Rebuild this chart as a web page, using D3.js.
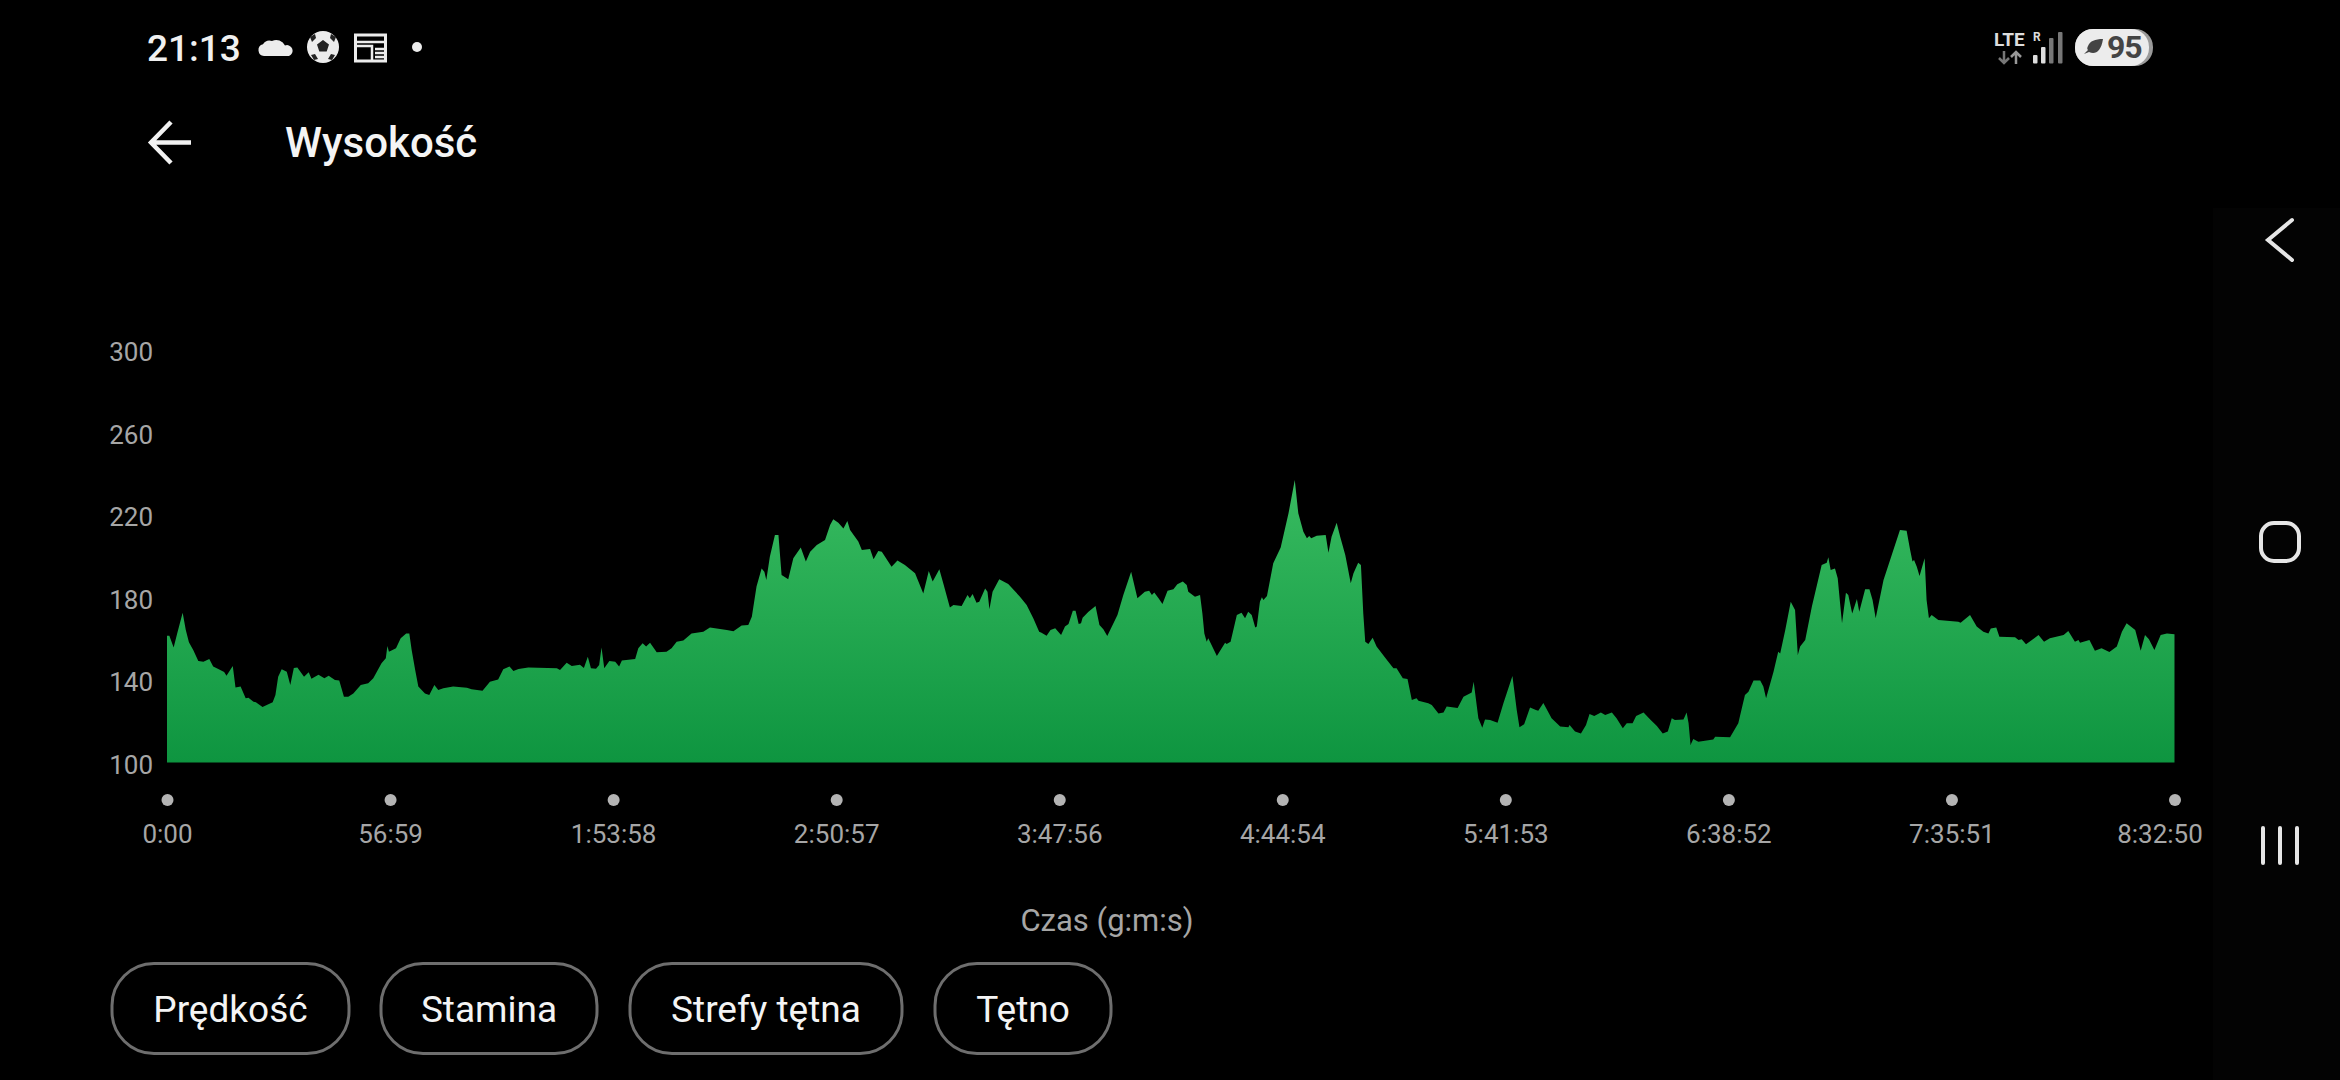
<!DOCTYPE html>
<html lang="pl">
<head>
<meta charset="utf-8">
<title>Wysokość</title>
<script src="https://cdn.jsdelivr.net/npm/d3@7"></script>
<style>
  html, body { margin: 0; padding: 0; background: #000; overflow: hidden; }
  svg { display: block; font-family: Roboto, sans-serif; }
  .axis text { fill: #a6a6a6; font-size: 26px; font-family: Roboto, sans-serif; }
  .axis path { display: none; }
</style>
</head>
<body>
<svg width="2340" height="1080"></svg>
<script>
// Values
const yTicks = [100, 140, 180, 220, 260, 300];
const xTickLabels = ["0:00", "56:59", "1:53:58", "2:50:57", "3:47:56", "4:44:54", "5:41:53", "6:38:52", "7:35:51", "8:32:50"];
const buttonLabels = ["Prędkość", "Stamina", "Strefy tętna", "Tętno"];
const buttonEdges = [[112, 349], [381, 597], [630, 902], [935, 1111]];

// time in minutes
const minutes = [
  0, 0.6, 1.7, 2.6, 4.0, 4.8, 5.6, 6.7, 8.0, 9.3, 10.8, 11.8, 13.1, 14.6, 15.2, 16.8, 17.5, 18.8, 20.1, 20.8,
  22.1, 22.7, 24.4, 25.9, 27.0, 27.7, 28.4, 29.3, 30.6, 31.5, 32.4, 33.3, 35.0, 36.2, 36.9, 38.7, 40.2, 41.3, 42.9, 44.0,
  45.2, 46.3, 47.6, 49.5, 51.4, 52.7, 54.8, 55.9, 56.3, 56.7, 58.5, 59.7, 61.1, 61.9, 62.5, 63.4, 64.2, 65.9, 67.0, 68.3,
  69.3, 70.6, 73.1, 76.6, 77.8, 80.6, 82.5, 84.6, 85.9, 87.5, 88.5, 89.8, 92.3, 99.6,
  100.4, 102.1, 103.4, 105.5, 106.5, 107.5, 108.3, 109.6, 110.4, 111.0, 111.7, 113.0, 114.5, 115.5, 116.2, 119.6, 120.4, 121.5, 122.4, 123.4,
  125.1, 127.6, 128.9, 130.2, 131.9, 134.0, 137.0, 138.7, 143.0, 144.7, 146.8, 148.5, 149.4, 150.6, 151.9, 152.6, 153.1, 154.0, 155.3, 156.2,
  157.0, 158.7, 160.0, 161.9, 163.2, 164.3, 166.0, 168.1, 169.4, 170.2, 171.5, 172.8, 173.8, 174.5, 176.6, 177.5, 179.6, 180.5, 181.7, 182.6,
  185.1, 186.6, 188.5, 191.1, 193.2, 194.6, 195.6, 197.3, 198.3, 200.0, 200.9, 203.0, 204.5, 205.1, 205.8, 206.8, 207.5, 209.0, 209.6, 210.1,
  210.9, 212.6, 214.9, 217.9, 219.6, 221.3, 222.8,
  223.4, 224.7, 225.7, 226.9, 228.4, 229.4, 230.3, 231.4, 232.1, 232.9, 233.5, 233.9, 235.4, 237.2, 238.2, 239.2, 240.2, 242.8, 244.3, 246.3,
  247.9, 249.8, 250.9, 251.6, 252.2, 253.3, 254.3, 255.6, 257.1, 258.1, 259.5, 260.5, 260.9, 262.6, 263.9, 264.5, 265.0, 265.6, 266.0, 268.2,
  270.3, 270.7, 271.7, 273.3, 274.5, 275.4, 276.2, 277.1, 278.0, 278.4, 279.2, 279.7, 280.1, 281.0, 282.6, 284.5, 286.5, 288.1, 289.0, 290.3,
  291.2, 291.8, 292.3, 293.7, 296.0, 296.7, 297.5, 298.8, 299.7, 301.0, 301.5, 302.4, 303.1, 304.3, 305.0, 305.6, 306.1, 306.9, 307.3, 308.0,
  309.0, 311.2, 313.3, 314.1, 315.7, 316.9, 318.0, 319.2, 319.7, 322.2, 323.1, 324.8, 326.1, 326.9, 329.7, 331.2, 333.3, 333.8, 335.0, 336.0,
  336.7, 338.0, 339.9, 341.4, 343.7,
  344.8, 345.5, 346.7, 348.2, 349.7, 350.3, 351.6, 353.7, 355.9, 358.0, 358.3, 359.7, 361.2, 362.5, 363.4, 364.6, 366.3, 367.4, 369.1, 370.3,
  371.9, 372.9, 374.4, 375.3, 377.2, 378.9, 380.6, 382.1, 383.4, 384.4, 385.2, 387.4, 388.2, 388.7, 389.2, 389.9, 391.2, 395.0, 395.5, 399.3,
  401.4, 403.1, 404.0, 405.3, 407.0, 407.8, 408.5, 410.4, 411.6, 412.1, 413.4, 414.8, 415.9, 416.6, 417.2, 418.5, 420.2, 422.7, 424.0, 424.4,
  425.0, 426.1, 426.8, 427.4, 427.9, 428.9, 429.5, 430.5, 431.7, 432.3, 433.8, 434.9, 435.7, 436.5, 438.5, 440.6, 442.7, 444.4, 445.3, 445.9,
  446.3, 447.0, 447.7, 449.0, 449.5, 450.1, 450.8, 452.5, 457.6, 458.2, 460.6, 462.3, 464.0, 465.3, 465.9, 467.3, 468.1, 472.1, 473.0, 473.8,
  474.9, 476.4, 478.1, 479.5, 481.0, 484.5, 485.7, 487.4, 488.3, 488.7, 491.1, 492.5, 494.2, 496.2, 498.1, 499.4, 500.6, 502.8, 504.2, 505.3,
  506.3, 507.7, 509.3, 510.9, 512.83
];
// elevation in metres
const elevation = [
  161.5, 161.5, 155.8, 162.6, 172.6, 164.2, 158.3, 154.5, 149.2, 148.9, 150.2, 146.5, 145.3, 143.9, 142.1, 146.8, 136.4, 136.8, 131.1, 131.4,
  129.5, 129.2, 126.9, 128.2, 129.2, 132.7, 141.6, 145.2, 144.0, 137.6, 145.8, 146.1, 141.6, 143.7, 140.6, 142.6, 140.8, 142.1, 140.0, 139.7,
  131.9, 131.9, 133.5, 137.6, 138.4, 140.8, 148.1, 150.5, 156.5, 153.7, 155.4, 160.2, 162.5, 162.6, 154.5, 144.8, 136.8, 133.5, 132.7, 137.6,
  135.2, 136.0, 136.8, 136.3, 135.5, 134.8, 139.2, 140.3, 145.2, 146.5, 144.4, 145.3, 146.1, 145.7,
  144.8, 148.4, 146.8, 147.4, 145.8, 151.3, 145.7, 145.5, 147.3, 155.7, 145.7, 149.2, 148.9, 146.5, 149.4, 150.2, 155.4, 157.8, 156.2, 158.1,
  153.4, 153.7, 155.4, 158.6, 159.1, 162.6, 163.4, 165.4, 164.2, 163.6, 166.4, 166.7, 170.7, 185.3, 194.1, 192.5, 188.5, 199.8, 210.3, 210.3,
  190.9, 188.8, 199.0, 204.3, 197.4, 202.2, 205.5, 207.9, 215.2, 217.9, 216.3, 213.5, 217.1, 212.7, 207.1, 203.0, 203.5, 198.5, 202.5, 202.2,
  194.9, 197.9, 195.8, 191.7, 182.0, 192.9, 187.7, 193.7, 186.9, 175.2, 176.4, 175.9, 181.2, 179.6, 181.7, 177.5, 178.0, 184.4, 182.8, 174.3,
  182.8, 188.8, 186.5, 180.4, 176.4, 169.9, 163.4,
  162.9, 161.5, 164.2, 165.1, 161.8, 165.9, 167.2, 173.6, 173.6, 167.2, 167.5, 170.2, 173.1, 175.9, 166.7, 164.6, 161.3, 171.5, 181.2, 192.5,
  179.6, 182.8, 183.3, 181.2, 182.4, 179.6, 176.9, 183.3, 184.0, 186.4, 187.7, 186.1, 182.8, 180.4, 181.2, 172.3, 162.6, 158.6, 160.2, 151.6,
  158.1, 157.5, 158.6, 171.5, 172.6, 169.9, 173.1, 171.5, 165.4, 165.9, 178.0, 180.1, 178.8, 180.7, 196.6, 204.3, 220.8, 237.0, 220.8, 211.9,
  208.7, 209.8, 208.7, 210.0, 210.3, 201.7, 209.5, 216.3, 209.5, 200.6, 195.8, 186.9, 191.7, 196.9, 195.8, 172.3, 158.6, 157.5, 158.6, 160.5,
  156.2, 150.8, 145.7, 145.7, 140.8, 140.5, 130.3, 131.1, 130.0, 128.7, 127.9, 123.8, 124.3, 127.1, 126.4, 131.9, 133.9, 139.2, 121.4, 116.9,
  120.9, 120.6, 119.3, 128.7, 141.9,
  125.5, 117.1, 118.5, 126.7, 125.5, 125.1, 128.9, 121.4, 117.4, 117.1, 118.2, 115.0, 114.1, 118.2, 123.5, 122.5, 124.2, 123.0, 124.2, 121.4,
  116.6, 119.0, 119.0, 122.5, 124.2, 120.9, 117.7, 114.1, 115.0, 121.4, 120.6, 120.9, 124.2, 119.0, 108.5, 111.4, 110.1, 111.2, 112.5, 112.2,
  119.0, 132.7, 134.3, 139.7, 139.7, 136.8, 131.1, 144.0, 153.7, 152.9, 164.2, 178.0, 173.9, 152.1, 156.2, 159.4, 175.6, 195.8, 196.9, 199.5,
  193.3, 194.1, 189.3, 177.2, 167.5, 182.3, 181.2, 172.3, 179.3, 173.1, 184.0, 184.0, 178.8, 169.9, 188.5, 200.6, 212.7, 212.4, 203.0, 197.4,
  198.2, 194.9, 190.4, 199.0, 178.8, 169.9, 171.5, 169.1, 168.3, 167.8, 171.5, 165.9, 163.4, 162.6, 165.0, 165.5, 161.0, 160.7, 159.4, 159.7,
  157.3, 159.4, 161.8, 158.6, 160.2, 161.8, 163.8, 158.6, 159.4, 158.1, 159.4, 154.2, 155.4, 153.6, 156.2, 163.4, 167.5, 164.2, 154.2, 161.8,
  159.7, 154.6, 161.8, 162.6, 162.2
];

const svg = d3.select("svg");

// Navigation strip on the right, under everything else
svg.append("rect").attr("x", 2213).attr("y", 208).attr("width", 127).attr("height", 872).attr("fill", "#030303");

// hh:mm:ss label to minutes
const labelToMinutes = (s) => s.split(":").map(Number).reduce((acc, v) => acc * 60 + v, 0) / 60;
const xTickValues = xTickLabels.map((s, i) => i === 0 ? 0 : labelToMinutes(s));

const x = d3.scaleLinear().domain([0, labelToMinutes("8:32:50")]).range([167, 2174.5]);
const y = d3.scaleLinear().domain([100, 300]).range([762.5, 350]);

// Gradient under the profile
const grad = svg.append("defs").append("linearGradient")
  .attr("id", "areaFill")
  .attr("x1", 0).attr("x2", 0).attr("y1", 0).attr("y2", 1);
grad.append("stop").attr("offset", "0%").attr("stop-color", "#38bb60");
grad.append("stop").attr("offset", "100%").attr("stop-color", "#0e9540");

const area = d3.area()
  .x((d, i) => x(minutes[i]))
  .y0(y(100))
  .y1(d => y(d));

svg.append("path")
  .datum(elevation)
  .attr("fill", "url(#areaFill)")
  .attr("d", area);

// Axes
const yAxis = svg.append("g")
  .attr("class", "axis")
  .attr("transform", "translate(153,0)")
  .call(d3.axisLeft(y).tickValues(yTicks).tickSize(0).tickPadding(0));
yAxis.selectAll("text").attr("dy", "0.36em").attr("transform", "translate(0,1.5)");

const xAxis = svg.append("g")
  .attr("class", "axis")
  .attr("transform", "translate(0,800)")
  .call(d3.axisBottom(x).tickValues(xTickValues).tickSize(0).tickPadding(25)
    .tickFormat((d, i) => xTickLabels[i]));

xAxis.selectAll(".tick").append("circle")
  .attr("r", 6)
  .attr("fill", "#b4b4b4");

// last label sits left of its dot in the app
xAxis.selectAll(".tick text").filter((d, i) => i === xTickLabels.length - 1).attr("dx", -15);

svg.append("text")
  .attr("x", 1107).attr("y", 931)
  .attr("text-anchor", "middle")
  .attr("fill", "#a6a6a6")
  .attr("font-size", 31)
  .text("Czas (g:m:s)");

// Buttons under the chart
const btn = svg.selectAll("g.btn").data(buttonLabels).enter().append("g").attr("class", "btn");
btn.append("rect")
  .attr("x", (d, i) => buttonEdges[i][0])
  .attr("y", 963.5)
  .attr("width", (d, i) => buttonEdges[i][1] - buttonEdges[i][0])
  .attr("height", 90)
  .attr("rx", 42)
  .attr("fill", "none")
  .attr("stroke", "#6e6e6e")
  .attr("stroke-width", 3);
btn.append("text")
  .attr("x", (d, i) => (buttonEdges[i][0] + buttonEdges[i][1]) / 2)
  .attr("y", 1022)
  .attr("text-anchor", "middle")
  .attr("fill", "#f4f4f4")
  .attr("font-size", 37)
  .text(d => d);

// Header
svg.append("text").attr("x", 147).attr("y", 61).attr("fill", "#f0f0f0")
  .attr("font-size", 37).attr("font-weight", 500).text("21:13");
svg.append("text").attr("x", 285).attr("y", 157).attr("fill", "#f4f4f4")
  .attr("font-size", 42).attr("font-weight", 500).text("Wysokość");
svg.append("path").attr("d", "M171 122L151 142.5L171 163M151 142.5H191")
  .attr("fill", "none").attr("stroke", "#f2f2f2").attr("stroke-width", 4.5);

// Status bar icons, left
svg.append("path").attr("fill", "#ececec")
  .attr("d", "M264 56a6 6 0 0 1 -1 -11.800a8 8 0 0 1 9 -3.200a9.500 9.500 0 0 1 13 4.500a5.300 5.300 0 0 1 4 10.500z");
svg.append("circle").attr("cx", 323).attr("cy", 47).attr("r", 16).attr("fill", "#ececec");
svg.append("path").attr("fill", "#222")
  .attr("d", "M323 40l6 4.500l-2.300 7h-7.400l-2.300 -7zM310 37l5 -3l1 4l-4 4zM336 37l-5 -3l-1 4l4 4zM311 55l4 -1l3 5l-4 1zM335 55l-4 -1l-3 5l4 1z");
svg.append("rect").attr("x", 355.500).attr("y", 35).attr("width", 30).attr("height", 26)
  .attr("fill", "none").attr("stroke", "#ececec").attr("stroke-width", 3);
svg.append("path").attr("fill", "none").attr("stroke", "#ececec").attr("stroke-width", 2.500)
  .attr("d", "M355 42H386M355 46H372V61M375 49H385M375 53H385M375 57H385");
svg.append("circle").attr("cx", 417).attr("cy", 47).attr("r", 5).attr("fill", "#ececec");

// Status bar icons, right
svg.append("text").attr("x", 1994).attr("y", 46).attr("fill", "#dcdcdc")
  .attr("font-size", 19).attr("font-weight", 700).text("LTE");
svg.append("text").attr("x", 2033).attr("y", 41).attr("fill", "#dcdcdc")
  .attr("font-size", 12).attr("font-weight", 700).text("R");
svg.append("path").attr("fill", "none").attr("stroke", "#777").attr("stroke-width", 2.500)
  .attr("d", "M2004 51V63M1999 58L2004 63L2009 58");
svg.append("path").attr("fill", "none").attr("stroke", "#999").attr("stroke-width", 2.500)
  .attr("d", "M2016 64V52M2011 57L2016 52L2021 57");
svg.selectAll("rect.signal")
  .data([[2033, 55, "#ddd"], [2041, 47, "#ddd"], [2049, 38, "#777"], [2058, 32, "#777"]])
  .enter().append("rect").attr("class", "signal")
  .attr("x", d => d[0]).attr("y", d => d[1]).attr("width", 4.500)
  .attr("height", d => 63.500 - d[1]).attr("rx", 1).attr("fill", d => d[2]);
svg.append("rect").attr("x", 2075).attr("y", 29).attr("width", 78).attr("height", 37).attr("rx", 18).attr("fill", "#9a9a9a");
svg.append("rect").attr("x", 2075).attr("y", 29).attr("width", 74).attr("height", 37).attr("rx", 18).attr("fill", "#ececec");
svg.append("path").attr("fill", "#444")
  .attr("d", "M2103 39c-8 0 -13 2 -15 7c-1 2 -1 3 0 4l-4 4l5 -2c6 3 12 0 14 -13z");
svg.append("text").attr("x", 2107).attr("y", 58).attr("fill", "#444")
  .attr("font-size", 32).attr("font-weight", 700).attr("letter-spacing", -1).text("95");

// Navigation icons
svg.append("path").attr("fill", "none").attr("stroke", "#e6e6e6").attr("stroke-width", 4).attr("stroke-linecap", "round")
  .attr("d", "M2292 220L2268 240L2292 260");
svg.append("rect").attr("x", 2261).attr("y", 523).attr("width", 38).attr("height", 38).attr("rx", 13)
  .attr("fill", "none").attr("stroke", "#e6e6e6").attr("stroke-width", 4);
svg.append("path").attr("fill", "none").attr("stroke", "#e6e6e6").attr("stroke-width", 4).attr("stroke-linecap", "round")
  .attr("d", "M2263 828V863M2280 828V863M2297 828V863");
</script>
</body>
</html>
